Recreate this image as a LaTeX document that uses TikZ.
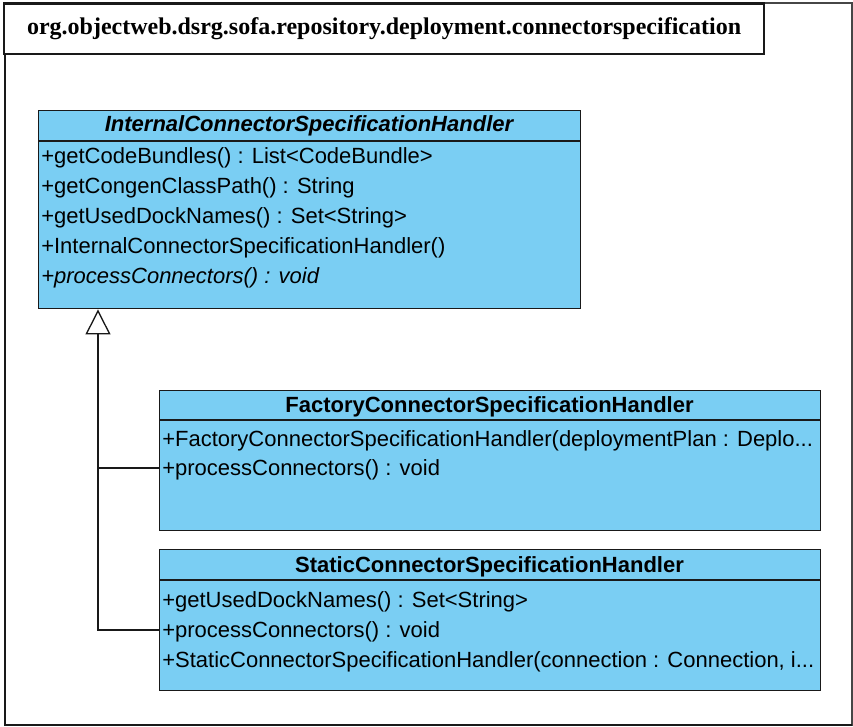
\documentclass[tikz,border=0pt]{standalone}
\usepackage{fontspec}
\setmainfont{Liberation Serif}
\setsansfont{Liberation Sans}
\usetikzlibrary{arrows.meta}

\definecolor{classfill}{RGB}{122,206,243}
\definecolor{ink}{RGB}{25,25,25}
\definecolor{frameline}{RGB}{70,70,70}

\tikzset{
  classbox/.style={draw=ink, line width=1.1pt, fill=classfill, rectangle,
    anchor=north west, inner sep=0pt},
  classname/.style={font=\sffamily\bfseries\fontsize{16.5}{18}\selectfont,
    inner sep=0pt, text height=12pt, text depth=1.5pt},
  member/.style={font=\sffamily\fontsize{16.5}{18}\selectfont, anchor=west,
    inner sep=0pt, text height=12pt, text depth=1.5pt},
  divider/.style={draw=ink, line width=1.1pt},
  generalization/.style={draw=ink, line width=1pt,
    -{Triangle[length=18.75pt, width=18.75pt, fill=white, line width=1pt]}},
  branch/.style={draw=ink, line width=1pt},
  pkgtab/.style={draw=ink, line width=1.6pt, rectangle, anchor=north west,
    inner sep=0pt, minimum width=570pt, minimum height=38pt,
    font=\bfseries\fontsize{18}{20}\selectfont},
}

\begin{document}
\begin{tikzpicture}[x=0.75pt, y=-0.75pt]
\useasboundingbox (0,0) rectangle (853,727);

% package frame: thin top and right edges, heavier left and bottom edges
\draw[frameline, line width=0.8pt] (5,3) rectangle (852,725);
\draw[ink, line width=1.6pt] (5,3) -- (5,725) -- (852,725);
\node[pkgtab, fill=white] (pkg) at (3,2.5)
  {org.objectweb.dsrg.sofa.repository.deployment.connectorspecification};

% abstract base class
\node[classbox, minimum width=406.5pt, minimum height=148.5pt] (internal) at (38,110) {};
\draw[divider] (38,141) -- (580,141);
\node[classname, font=\sffamily\bfseries\itshape\fontsize{16.5}{18}\selectfont]
  (internalname) at (309,125) {InternalConnectorSpecificationHandler};
\node[member] (im1) at (41,157) {+getCodeBundles() : List<CodeBundle>};
\node[member] (im2) at (41,187) {+getCongenClassPath() : String};
\node[member] (im3) at (41,217) {+getUsedDockNames() : Set<String>};
\node[member] (im4) at (41,247) {+InternalConnectorSpecificationHandler()};
\node[member, font=\sffamily\itshape\fontsize{16.5}{18}\selectfont]
  (im5) at (41,277) {+processConnectors() : void};

% factory subclass
\node[classbox, minimum width=495.75pt, minimum height=105pt] (factory) at (159,390) {};
\draw[divider] (159,420) -- (820,420);
\node[classname] (factoryname) at (489.5,405) {FactoryConnectorSpecificationHandler};
\node[member] (fm1) at (162,439) {+FactoryConnectorSpecificationHandler(deploymentPlan : Deplo...};
\node[member] (fm2) at (162,468) {+processConnectors() : void};

% static subclass
\node[classbox, minimum width=495.75pt, minimum height=105.75pt] (static) at (159,549) {};
\draw[divider] (159,580) -- (820,580);
\node[classname] (staticname) at (489.5,565) {StaticConnectorSpecificationHandler};
\node[member] (sm1) at (162,600) {+getUsedDockNames() : Set<String>};
\node[member] (sm2) at (162,630) {+processConnectors() : void};
\node[member] (sm3) at (162,660) {+StaticConnectorSpecificationHandler(connection : Connection, i...};

% generalization tree
\coordinate (trunk) at (98,308);
\draw[generalization] (static.west |- sm2) -| (internal.south -| trunk);
\draw[branch] (factory.west |- fm2) -- (fm2 -| trunk);
\end{tikzpicture}
\end{document}
